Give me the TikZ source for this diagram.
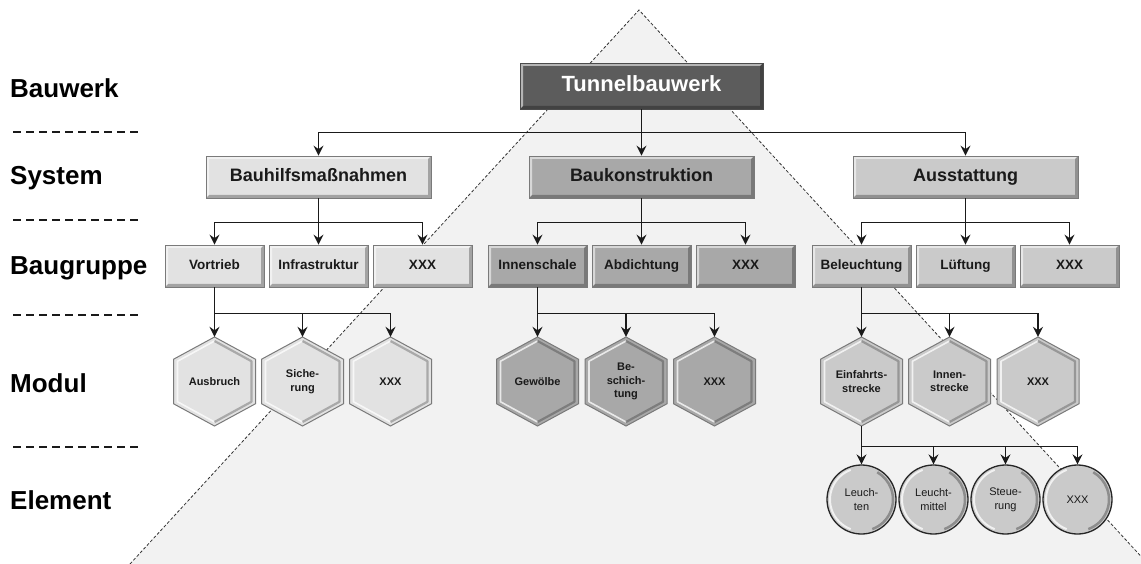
\documentclass[tikz,border=0pt]{standalone}
\usepackage{fontspec}
\setmainfont{Liberation Sans}
\usetikzlibrary{arrows.meta}

\definecolor{pyramid}{HTML}{F2F2F2}
\definecolor{pyrline}{HTML}{333333}
\definecolor{ink}{HTML}{1A1A1A}
\definecolor{topfill}{HTML}{5C5C5C}
\definecolor{gA}{HTML}{E2E2E2}
\definecolor{gB}{HTML}{A8A8A8}
\definecolor{gC}{HTML}{CACACA}
\definecolor{boxline}{HTML}{7A7A7A}

% raised box look: light top/left strip, dark bottom/right strip
\tikzset{
  bevel/.style={path picture={
    \fill[white,opacity=.55]
      (path picture bounding box.south west) -- (path picture bounding box.north west)
      -- (path picture bounding box.north east)
      -- ([xshift=-3pt,yshift=-3pt]path picture bounding box.north east)
      -- ([xshift=3pt,yshift=-3pt]path picture bounding box.north west)
      -- ([xshift=3pt,yshift=3pt]path picture bounding box.south west) -- cycle;
    \fill[black,opacity=.28]
      (path picture bounding box.south west) -- (path picture bounding box.south east)
      -- (path picture bounding box.north east)
      -- ([xshift=-3pt,yshift=-3pt]path picture bounding box.north east)
      -- ([xshift=-3pt,yshift=3pt]path picture bounding box.south east)
      -- ([xshift=3pt,yshift=3pt]path picture bounding box.south west) -- cycle;
  }},
  boxbase/.style={rectangle, draw=boxline, line width=0.8pt, bevel, inner sep=0pt,
    text=ink, align=center},
  topbox/.style={boxbase, fill=topfill, draw=black!70, minimum width=243pt, minimum height=46pt,
    text=white, font=\fontsize{22}{24}\selectfont\bfseries, text height=16pt, text depth=4pt},
  sysbox/.style={boxbase, minimum width=225pt, minimum height=42pt,
    font=\fontsize{18}{20}\selectfont\bfseries, text height=13pt, text depth=3.5pt},
  grpbox/.style={boxbase, minimum width=99pt, minimum height=42pt,
    font=\fontsize{13.5}{15}\selectfont\bfseries, text height=10pt, text depth=2.8pt},
  hextext/.style={rectangle, draw=none, inner sep=0pt, minimum width=82pt, minimum height=89pt,
    align=center, text=ink, font=\fontsize{11}{13.5}\selectfont\bfseries},
  elem/.style={circle, draw=black!85, line width=1.3pt, minimum size=69pt, inner sep=0pt,
    fill=gC, align=center, text=ink, font=\fontsize{11}{14}\selectfont,
    path picture={
      \draw[white,opacity=.75,line width=2pt]
        ([shift={(110:31.5pt)}]path picture bounding box.center)
        arc[start angle=110,end angle=250,radius=31.5pt];
      \draw[black,opacity=.3,line width=2.5pt]
        ([shift={(-70:31.5pt)}]path picture bounding box.center)
        arc[start angle=-70,end angle=60,radius=31.5pt];
    }},
  lvl/.style={anchor=west, inner sep=0pt, font=\fontsize{26}{28}\selectfont\bfseries, text=black},
  sep/.style={draw=ink, line width=1.6pt, dash pattern=on 8pt off 5pt},
  pyredge/.style={draw=pyrline, line width=0.8pt, dash pattern=on 3pt off 2pt},
  arr/.style={draw=ink, line width=1.3pt, -{Stealth[length=10pt,width=10pt,inset=3.5pt]}}
}

% module hexagon: name, x, y, fill, text
\newcommand{\modhex}[5]{%
  \begin{scope}[shift={(#2,#3)}]
    \filldraw[fill=#4, draw=boxline, line width=1pt]
      (0,-44.5) -- (41,-22.25) -- (41,22.25) -- (0,44.5) -- (-41,22.25) -- (-41,-22.25) -- cycle;
    \draw[white, opacity=.75, line width=1.6pt, line join=round]
      (0,-40.5) -- (-37,-20.25) -- (-37,20.25) -- (0,40.5);
    \draw[black, opacity=.25, line width=2.2pt, line join=round]
      (0,-40.5) -- (37,-20.25) -- (37,20.25) -- (0,40.5);
  \end{scope}
  \node[hextext] (#1) at (#2,#3) {#5};
}

\begin{document}
\begin{tikzpicture}[x=1pt,y=-1pt]
\useasboundingbox (0,0) rectangle (1141,564);

% pyramid in the background
\coordinate (apex) at (639,10);
\coordinate (baseL) at (130,564);
\coordinate (baseR) at (1148,564);
\begin{scope}
  \clip (0,0) rectangle (1141,564);
  \fill[pyramid] (apex) -- (baseL) -- (baseR) -- cycle;
  \draw[pyredge] (baseL) -- (apex) -- (baseR);
\end{scope}

% level labels and separators
\node[lvl] (lBau) at (10,88) {Bauwerk};
\node[lvl] (lSys) at (10,178) {System};
\node[lvl] (lGrp) at (10,268) {Baugruppe};
\node[lvl] (lMod) at (10,383) {Modul};
\node[lvl] (lEl)  at (10,500) {Element};
\draw[sep] (13,132) -- (139,132);
\draw[sep] (13,220) -- (139,220);
\draw[sep] (13,315) -- (139,315);
\draw[sep] (13,447) -- (139,447);

% structure
\node[topbox] (tun) at (641.5,86) {Tunnelbauwerk};

\node[sysbox, fill=gA] (s1) at (318.5,177) {Bauhilfsmaßnahmen};
\node[sysbox, fill=gB] (s2) at (641.5,177) {Baukonstruktion};
\node[sysbox, fill=gC] (s3) at (965.5,177) {Ausstattung};

\node[grpbox, fill=gA] (b11) at (214.5,266) {Vortrieb};
\node[grpbox, fill=gA] (b12) at (318.5,266) {Infrastruktur};
\node[grpbox, fill=gA] (b13) at (422.5,266) {XXX};
\node[grpbox, fill=gB] (b21) at (537.5,266) {Innenschale};
\node[grpbox, fill=gB] (b22) at (641.5,266) {Abdichtung};
\node[grpbox, fill=gB] (b23) at (745.5,266) {XXX};
\node[grpbox, fill=gC] (b31) at (861.5,266) {Beleuchtung};
\node[grpbox, fill=gC] (b32) at (965.5,266) {Lüftung};
\node[grpbox, fill=gC] (b33) at (1069.5,266) {XXX};

\modhex{h11}{214.5}{381.5}{gA}{Ausbruch}
\modhex{h12}{302.5}{381.5}{gA}{Siche-\\rung}
\modhex{h13}{390.5}{381.5}{gA}{XXX}
\modhex{h21}{537.5}{381.5}{gB}{Gewölbe}
\modhex{h22}{626}{381.5}{gB}{Be-\\schich-\\tung}
\modhex{h23}{714.5}{381.5}{gB}{XXX}
\modhex{h31}{861.5}{381.5}{gC}{Einfahrts-\\strecke}
\modhex{h32}{949.5}{381.5}{gC}{Innen-\\strecke}
\modhex{h33}{1038}{381.5}{gC}{XXX}

\node[elem] (e1) at (861.5,499.5) {Leuch-\\ten};
\node[elem] (e2) at (933.5,499.5) {Leucht-\\mittel};
\node[elem] (e3) at (1005.5,499.5) {Steue-\\rung};
\node[elem] (e4) at (1077.5,499.5) {XXX};

% connectors
\draw[arr] (tun.south) -- ++(0,23) -| (s1.north);
\draw[arr] (tun.south) -- ++(0,23) -| (s3.north);
\draw[arr] (tun.south) -- (s2.north);

\draw[arr] (s1.south) -- ++(0,24) -| (b11.north);
\draw[arr] (s1.south) -- ++(0,24) -| (b13.north);
\draw[arr] (s1.south) -- (b12.north);
\draw[arr] (s2.south) -- ++(0,24) -| (b21.north);
\draw[arr] (s2.south) -- ++(0,24) -| (b23.north);
\draw[arr] (s2.south) -- (b22.north);
\draw[arr] (s3.south) -- ++(0,24) -| (b31.north);
\draw[arr] (s3.south) -- ++(0,24) -| (b33.north);
\draw[arr] (s3.south) -- (b32.north);

\draw[arr] (b11.south) -- (h11.north);
\draw[arr] (b11.south) -- ++(0,26) -| (h12.north);
\draw[arr] (b11.south) -- ++(0,26) -| (h13.north);
\draw[arr] (b21.south) -- (h21.north);
\draw[arr] (b21.south) -- ++(0,26) -| (h22.north);
\draw[arr] (b21.south) -- ++(0,26) -| (h23.north);
\draw[arr] (b31.south) -- (h31.north);
\draw[arr] (b31.south) -- ++(0,26) -| (h32.north);
\draw[arr] (b31.south) -- ++(0,26) -| (h33.north);

\draw[arr] (h31.south) -- (e1.north);
\draw[arr] (h31.south) -- ++(0,20) -| (e2.north);
\draw[arr] (h31.south) -- ++(0,20) -| (e3.north);
\draw[arr] (h31.south) -- ++(0,20) -| (e4.north);
\end{tikzpicture}
\end{document}
